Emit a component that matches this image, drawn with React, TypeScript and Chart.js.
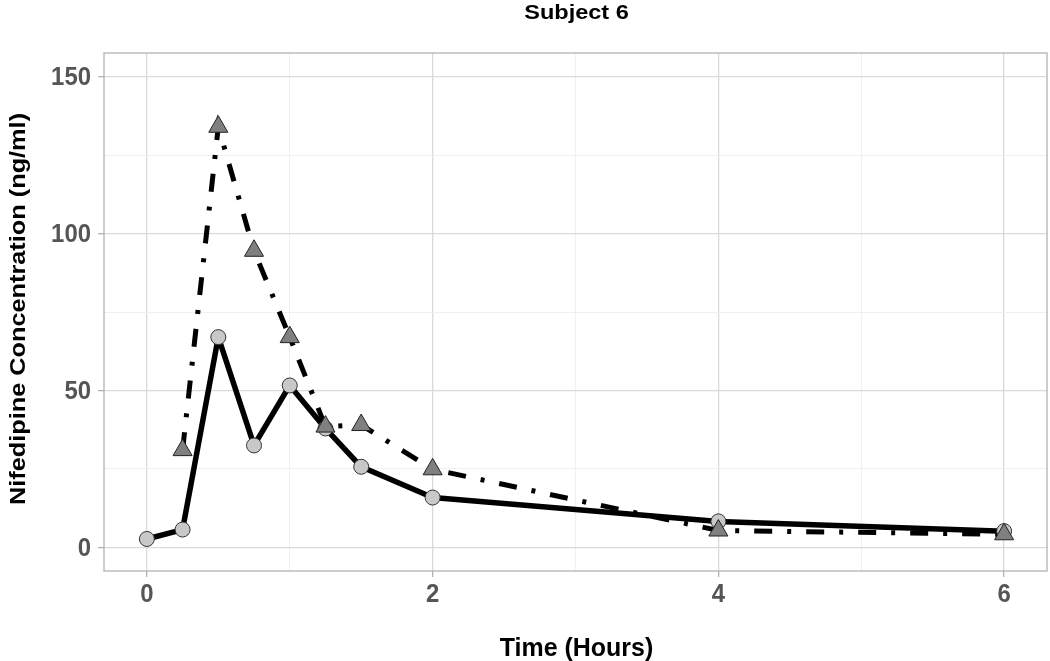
import React, { useEffect, useRef } from "react";
import { Chart, registerables } from "chart.js";
Chart.register(...registerables);

const timeCircle = [0, 0.25, 0.5, 0.75, 1, 1.25, 1.5, 2, 4, 6];
const concCircle = [2.7, 5.7, 67, 32.5, 51.6, 37.9, 25.7, 15.9, 8.3, 5.2];
const timeTriangle = [0.25, 0.5, 0.75, 1, 1.25, 1.5, 2, 4, 6];
const concTriangle = [31, 134, 94.5, 67, 38.5, 39, 24.9, 5.4, 4.2];
const xMajorTicks = [0, 2, 4, 6];
const yMajorTicks = [0, 50, 100, 150];
const xAllTicks = [0, 1, 2, 3, 4, 5, 6];
const yAllTicks = [0, 25, 50, 75, 100, 125, 150];
const titleText = "Subject 6";
const xTitle = "Time (Hours)";
const yTitle = "Nifedipine Concentration (ng/ml)";

const FONT = "'Liberation Sans', Arial, sans-serif";

function scaledText(ctx: any, text: string, x: number, y: number, sx: number, align: string) {
  ctx.save();
  ctx.translate(x, y);
  ctx.scale(sx, 1);
  ctx.textAlign = align;
  ctx.fillText(text, 0, 0);
  ctx.restore();
}

export default function App() {
  const ref = useRef<HTMLCanvasElement | null>(null);
  useEffect(() => {
    if (!ref.current) return;
    const circlePts = timeCircle.map((t, i) => ({ x: t, y: concCircle[i] }));
    const triPts = timeTriangle.map((t, i) => ({ x: t, y: concTriangle[i] }));
    const decor = {
      id: "decor",
      beforeDatasetsDraw(chart: any) {
        const { ctx, chartArea: a } = chart;
        ctx.save();
        ctx.strokeStyle = "#b3b3b3";
        ctx.lineWidth = 1.3;
        ctx.strokeRect(a.left, a.top, a.right - a.left, a.bottom - a.top);
        ctx.restore();
      },
      afterDraw(chart: any) {
        const { ctx, chartArea: a, scales } = chart;
        const cx = (a.left + a.right) / 2;
        ctx.save();
        ctx.textBaseline = "alphabetic";
        ctx.fillStyle = "#555555";
        ctx.font = `bold 26px ${FONT}`;
        xMajorTicks.forEach((v) => {
          scaledText(ctx, String(v), scales.x.getPixelForValue(v), 602, 0.92, "center");
        });
        ctx.textBaseline = "middle";
        yMajorTicks.forEach((v) => {
          scaledText(ctx, String(v), 91, scales.y.getPixelForValue(v) + 1, 0.92, "right");
        });
        ctx.fillStyle = "#000";
        ctx.textBaseline = "alphabetic";
        ctx.font = `bold 21px ${FONT}`;
        scaledText(ctx, titleText, cx + 1, 19, 1.12, "center");
        ctx.font = `bold 26px ${FONT}`;
        scaledText(ctx, xTitle, cx + 1, 656, 0.96, "center");
        ctx.translate(25, 309);
        ctx.rotate(-Math.PI / 2);
        ctx.font = `bold 22px ${FONT}`;
        scaledText(ctx, yTitle, 0, 0, 1.15, "center");
        ctx.restore();
      },
    };
    const gridOpts = (majors: number[]) => ({
      color: (c: any) => (majors.includes(c.tick?.value) ? "#dadada" : "#eeeeee"),
      lineWidth: (c: any) => (majors.includes(c.tick?.value) ? 1.3 : 0.9),
      tickColor: (c: any) => (majors.includes(c.tick?.value) ? "#b3b3b3" : "rgba(0,0,0,0)"),
      tickLength: 6,
      drawTicks: true,
    });
    const chart = new Chart(ref.current, {
      type: "line",
      data: {
        datasets: [
          {
            data: triPts,
            showLine: false,
            pointStyle: "triangle",
            pointRadius: 11,
            pointBackgroundColor: "#808080",
            pointBorderColor: "#222",
            pointBorderWidth: 1,
            order: 0,
          },
          {
            data: circlePts,
            showLine: false,
            pointStyle: "circle",
            pointRadius: 7.5,
            pointBackgroundColor: "#c8c8c8",
            pointBorderColor: "#333",
            pointBorderWidth: 1,
            order: 1,
          },
          {
            data: triPts,
            borderColor: "#000",
            borderWidth: 5,
            borderDash: [18, 15, 4, 15],
            borderCapStyle: "butt",
            pointRadius: 0,
            tension: 0,
            order: 2,
          },
          {
            data: circlePts,
            borderColor: "#000",
            borderWidth: 5.5,
            borderJoinStyle: "round",
            pointRadius: 0,
            tension: 0,
            order: 3,
          },
        ],
      },
      options: {
        animation: false,
        responsive: false,
        layout: { padding: { top: 53, right: 0, left: 0, bottom: 0 } },
        plugins: { legend: { display: false }, tooltip: { enabled: false }, title: { display: false } },
        scales: {
          x: {
            type: "linear",
            min: -0.3,
            max: 6.3,
            afterBuildTicks(scale: any) {
              scale.ticks = xAllTicks.map((v) => ({ value: v }));
            },
            afterFit(scale: any) {
              scale.height = 90;
              scale.paddingLeft = 0;
              scale.paddingRight = 0;
            },
            border: { display: false },
            grid: gridOpts(xMajorTicks),
            ticks: { display: false, autoSkip: false },
          },
          y: {
            type: "linear",
            min: -7.5,
            max: 157.5,
            afterBuildTicks(scale: any) {
              scale.ticks = yAllTicks.map((v) => ({ value: v }));
            },
            afterFit(scale: any) {
              scale.width = 104;
              scale.paddingTop = 0;
              scale.paddingBottom = 0;
            },
            border: { display: false },
            grid: gridOpts(yMajorTicks),
            ticks: { display: false, autoSkip: false },
          },
        },
      },
      plugins: [decor],
    } as any);
    return () => chart.destroy();
  }, []);
  return (
    <div style={{ position: "fixed", left: 0, top: 0, width: 1050, height: 661, overflow: "hidden", background: "#fff" }}>
      <canvas ref={ref} width={1059} height={661} style={{ width: 1059, height: 661, display: "block" }} />
    </div>
  );
}
